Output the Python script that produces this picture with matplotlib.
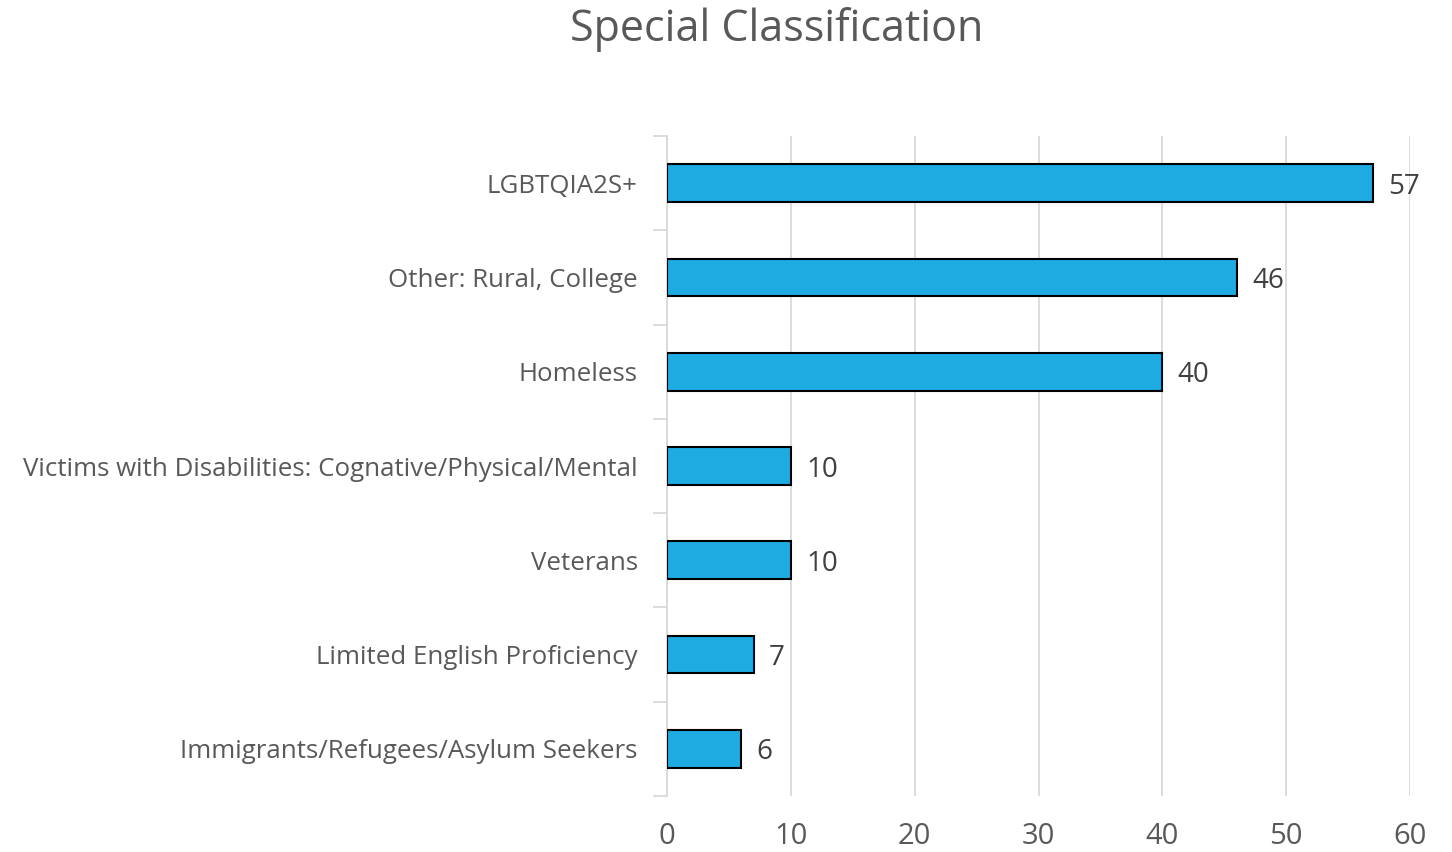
import matplotlib
matplotlib.use("Agg")
import matplotlib.pyplot as plt
import numpy as np

categories = ["LGBTQIA2S+", "Other: Rural, College", "Homeless",
              "Victims with Disabilities: Cognative/Physical/Mental", "Veterans",
              "Limited English Proficiency", "Immigrants/Refugees/Asylum Seekers"]
values = [57, 46, 40, 10, 10, 7, 6]
xticks = [0, 10, 20, 30, 40, 50, 60]

plt.rcParams['font.family'] = ['Open Sans', 'DejaVu Sans']
grey = "#595959"

fig = plt.figure(figsize=(14.52, 8.52), dpi=100)
ax = fig.add_axes([667/1452, 1-796/852, (1410-667)/1452, (796-136)/852])

n = len(categories)
ypos = np.arange(n)[::-1]
ax.barh(ypos, values, height=0.4, color="#1DABE2", edgecolor="black", linewidth=1.5, zorder=3)
for y, v in zip(ypos, values):
    ax.text(v + 1.25, y, str(v), va="center_baseline", ha="left", fontsize=20, color="#404040")

ax.set_xlim(0, 60)
ax.set_ylim(-0.5, n - 0.5)
ax.set_xticks(xticks)
ax.set_xticklabels([str(t) for t in xticks], fontsize=21, color=grey)
ax.tick_params(axis="x", length=0, pad=19)
ax.set_yticks(ypos)
ax.set_yticklabels(categories, fontsize=18.6, color=grey)
ax.tick_params(axis="y", which="major", length=0, pad=21)
ax.set_yticks(np.arange(-0.5, n, 1.0), minor=True)
ax.tick_params(axis="y", which="minor", length=10, color="#D9D9D9", width=1.3)
ax.grid(axis="x", color="#D9D9D9", linewidth=1.3, zorder=0)
for s in ["top", "right", "bottom"]:
    ax.spines[s].set_visible(False)
ax.spines["left"].set_color("#D9D9D9")
ax.spines["left"].set_linewidth(1.3)

fig.text(777/1452, 1-30/852, "Special Classification", ha="center", va="center", fontsize=31, color=grey)

fig.savefig("out.png", dpi=100)
